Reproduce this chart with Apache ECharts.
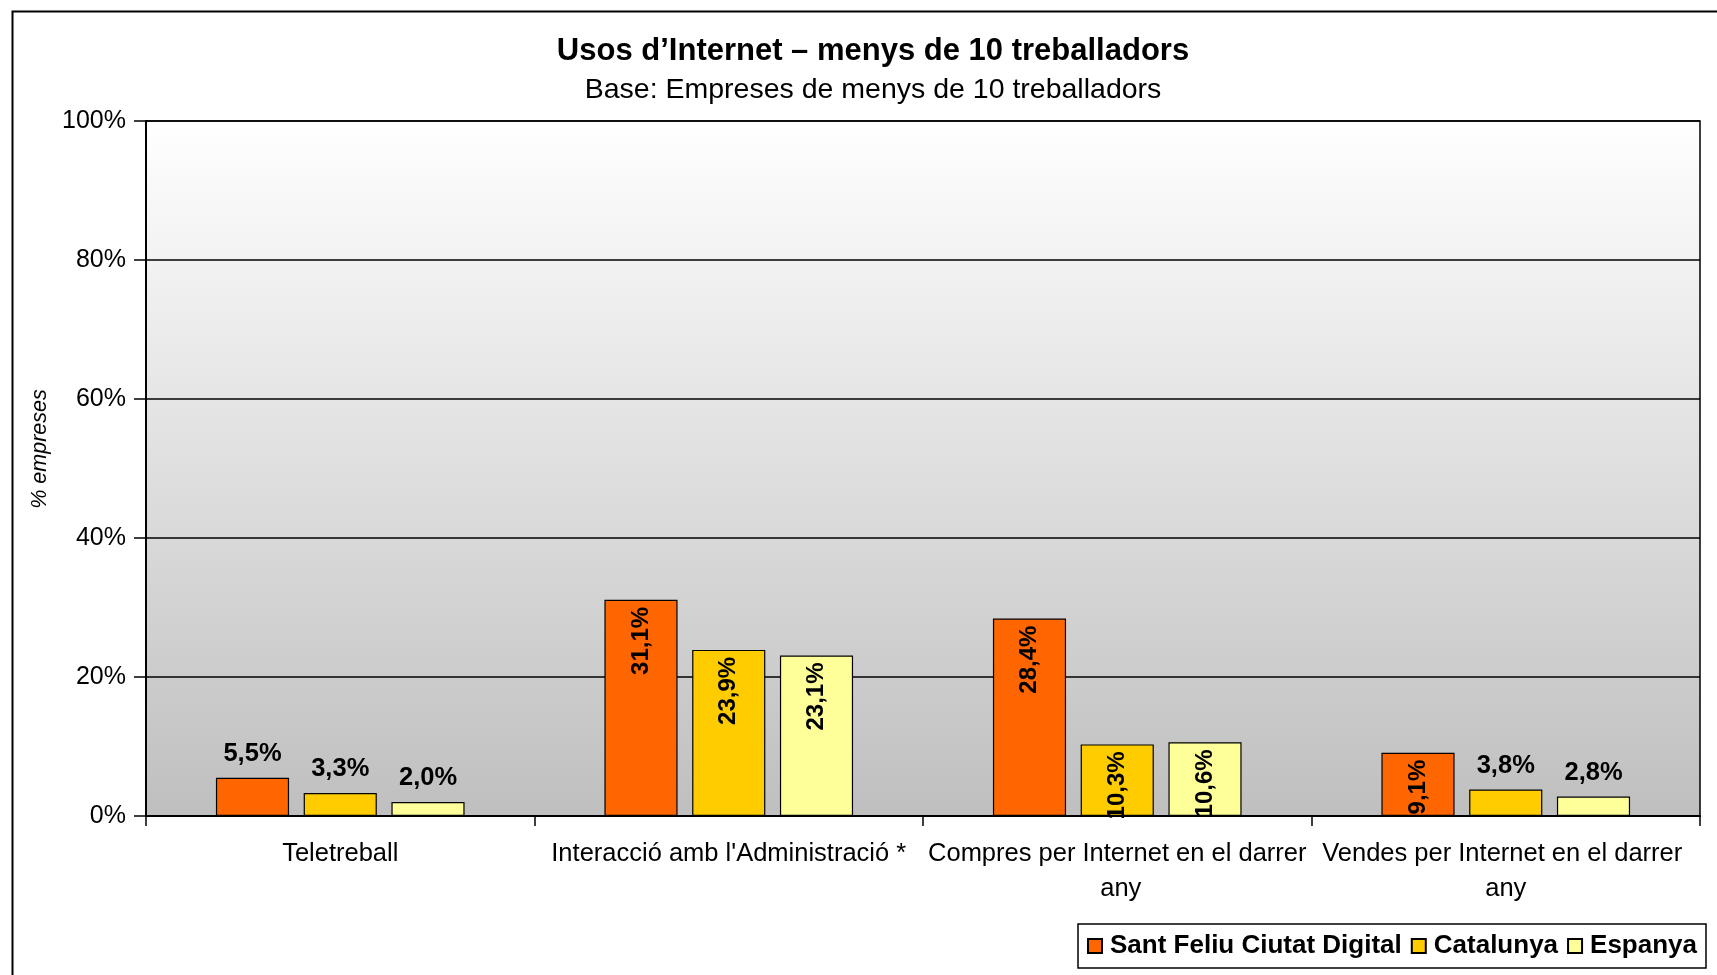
<!DOCTYPE html>
<html>
<head>
<meta charset="utf-8">
<script src="https://cdn.jsdelivr.net/npm/echarts@6/dist/echarts.min.js"></script>
<style>
html,body{margin:0;padding:0;background:#fff;}
#chart{width:1717px;height:975px;}
</style>
</head>
<body>
<div id="chart"></div>
<script>
const titleText = "Usos d\u2019Internet \u2013 menys de 10 treballadors";
const subtitleText = "Base: Empreses de menys de 10 treballadors";
const yAxisName = "% empreses";
const categories = ["Teletreball", "Interacci\u00f3 amb l'Administraci\u00f3 *", "Compres per Internet en el darrer any", "Vendes per Internet en el darrer any"];
const seriesNames = ["Sant Feliu Ciutat Digital", "Catalunya", "Espanya"];
const santFeliu = [5.5, 31.1, 28.4, 9.1];
const catalunya = [3.3, 23.9, 10.3, 3.8];
const espanya = [2.0, 23.1, 10.6, 2.8];
const seriesColors = ["#FF6600", "#FFCC00", "#FFFF99"];
const yTicks = [0, 20, 40, 60, 80, 100];

const FONT = "Liberation Sans, Arial, sans-serif";
const fmt = v => v.toFixed(1).replace('.', ',') + '%';

function makeData(values) {
  return values.map(v => {
    if (v >= 9) {
      return {
        value: v,
        label: {
          position: 'insideTop', rotate: 90, align: 'right', verticalAlign: 'middle', distance: 7, fontSize: 24
        }
      };
    }
    return { value: v, label: { position: 'top', rotate: 0, distance: 11, fontSize: 25.5 } };
  });
}

const allSeries = [santFeliu, catalunya, espanya].map((vals, i) => ({
  name: seriesNames[i],
  type: 'bar',
  data: makeData(vals),
  barGap: '20%',
  barCategoryGap: '36%',
  itemStyle: { color: seriesColors[i], borderColor: '#000', borderWidth: 1.2 },
  label: {
    show: true,
    formatter: p => fmt(p.value),
    fontFamily: FONT, fontWeight: 'bold', fontSize: 24, color: '#000'
  }
}));

const chart = echarts.init(document.getElementById('chart'), null, { renderer: 'canvas' });
chart.setOption({
  animation: false,
  backgroundColor: '#fff',
  graphic: [{
    type: 'rect', left: 10, top: 9,
    shape: { width: 1800, height: 1000 },
    style: { fill: 'none', stroke: '#000', lineWidth: 2 }, silent: true, z: 100
  }],
  title: {
    text: titleText,
    subtext: subtitleText,
    left: 868, textAlign: 'center', top: 31, itemGap: 9,
    textStyle: { fontFamily: FONT, fontWeight: 'bold', fontSize: 31, color: '#000' },
    subtextStyle: { fontFamily: FONT, fontSize: 28.5, color: '#000' }
  },
  legend: {
    data: seriesNames,
    right: 11, bottom: 7,
    orient: 'horizontal',
    icon: 'rect', itemWidth: 14, itemHeight: 14, itemGap: 9,
    padding: [9, 9, 9, 9],
    borderColor: '#000', borderWidth: 1.5, backgroundColor: '#fff',
    textStyle: { fontFamily: FONT, fontWeight: 'bold', fontSize: 26, color: '#000', padding: [0, 0, 0, 3] }
  },
  grid: {
    left: 146, right: 17, top: 121, bottom: 159,
    show: true, borderColor: '#000', borderWidth: 1.5,
    backgroundColor: new echarts.graphic.LinearGradient(0, 0, 0, 1, [
      { offset: 0, color: '#ffffff' }, { offset: 1, color: '#bfbfbf' }
    ])
  },
  xAxis: {
    type: 'category',
    data: categories,
    axisLine: { lineStyle: { color: '#000', width: 2 } },
    axisTick: { show: true, length: 10, lineStyle: { color: '#000', width: 1.5 } },
    axisLabel: {
      interval: 0, margin: 20, width: 385, overflow: 'break',
      fontFamily: FONT, fontSize: 25.5, color: '#000', lineHeight: 35
    }
  },
  yAxis: {
    type: 'value', min: yTicks[0], max: yTicks[yTicks.length - 1], interval: 20,
    name: yAxisName, nameLocation: 'middle', nameRotate: 90, nameGap: 93,
    nameTextStyle: { fontFamily: FONT, fontStyle: 'italic', fontSize: 21.5, color: '#000', padding: [0, 0, 0, 39] },
    axisLine: { show: true, lineStyle: { color: '#000', width: 2 } },
    axisTick: { show: true, length: 12, lineStyle: { color: '#000', width: 1.5 } },
    axisLabel: { formatter: '{value}%', margin: 20, fontFamily: FONT, fontSize: 25, color: '#000' },
    splitLine: { show: true, lineStyle: { color: '#000', width: 1.5 } }
  },
  series: allSeries
});
</script>
</body>
</html>
